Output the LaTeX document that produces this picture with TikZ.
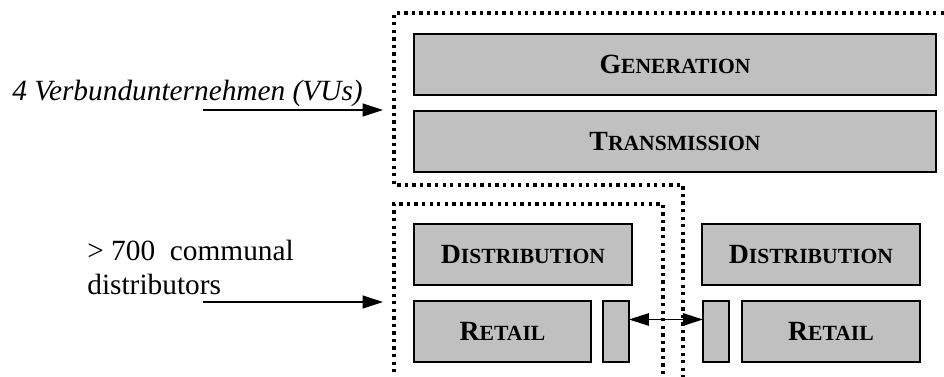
\documentclass[tikz,border=0pt]{standalone}
\usepackage{fontspec}
\setmainfont{Liberation Serif}
\usepackage{xcolor}
\usepackage{tikz}
\usetikzlibrary{arrows.meta, positioning}
\definecolor{layergray}{RGB}{192, 192, 192}
\newcommand{\capsc}[2]{{\fontsize{15.8}{18}\selectfont #1}{\fontsize{12.3}{14}\selectfont #2}}
\tikzstyle{layer} = [
    rectangle, 
    draw=black, 
    fill=layergray, 
    line width=0.85pt, 
    minimum height=1.22cm, 
    inner sep=0pt, 
    outer sep=0pt, 
    text centered, 
    font=\bfseries
]
\tikzstyle{port} = [
    layer, 
    minimum width=0.52cm
]
\tikzstyle{frame} = [
    line width=1.9pt, 
    dash pattern=on 1.9pt off 2.4pt
]
\tikzstyle{feed} = [
    line width=0.8pt, 
    -{Triangle[length=0.41cm, width=0.26cm]}
]
\tikzstyle{link} = [
    line width=0.7pt, 
    {Triangle[length=0.4cm, width=0.25cm]}-{Triangle[length=0.4cm, width=0.25cm]}
]
\tikzstyle{side} = [
    inner sep=0pt, 
    anchor=base west, 
    font=\fontsize{16.7}{18.8}\selectfont
]

\begin{document}
\begin{tikzpicture}[x=0.02cm, y=-0.02cm]
        \useasboundingbox (0,0) rectangle (944,376);

        \node[layer, minimum width=10.44cm] (gen) at (675,64.5) {\capsc{G}{ENERATION}};
        \node[layer, minimum width=10.44cm, below=0.32cm of gen] (trans) {\capsc{T}{RANSMISSION}};
        \node[layer, minimum width=4.36cm, anchor=north west] (distL) at (414,224) {\capsc{D}{ISTRIBUTION}};
        \node[layer, minimum width=4.36cm, right=1.4cm of distL] (distR) {\capsc{D}{ISTRIBUTION}};
        \node[layer, minimum width=3.54cm, below=0.32cm of distL.south west, anchor=north west] (retL) {\capsc{R}{ETAIL}};
        \node[port, right=0.24cm of retL] (portL) {};
        \node[layer, minimum width=3.56cm, below=0.32cm of distR.south east, anchor=north east] (retR) {\capsc{R}{ETAIL}};
        \node[port, left=0.26cm of retR] (portR) {};

        \draw[frame] (944,13) -- (394,13) -- (394,185) -- (683,185) -- (683,380);
        \draw[frame] (394,380) -- (394,204) -- (663,204) -- (663,380);

        \node[side, font=\fontsize{16.7}{18.8}\selectfont\itshape] (vus) at (12,100) {4 Verbundunternehmen (VUs)};
        \node[side, align=left] (communal) at (87,294) {> 700\ \ communal\\distributors};
        \coordinate (vus-tail) at (203,110);
        \coordinate (vus-head) at (383,110);
        \coordinate (communal-tail) at (203,302);
        \coordinate (communal-head) at (383,302);

        \draw[feed] (vus-tail) -- (vus-head);
        \draw[feed] (communal-tail) -- (communal-head);
        \draw[link] ([yshift=0.24cm]portL.east) -- ([yshift=0.24cm]portR.west);
    \end{tikzpicture}
\end{document}
